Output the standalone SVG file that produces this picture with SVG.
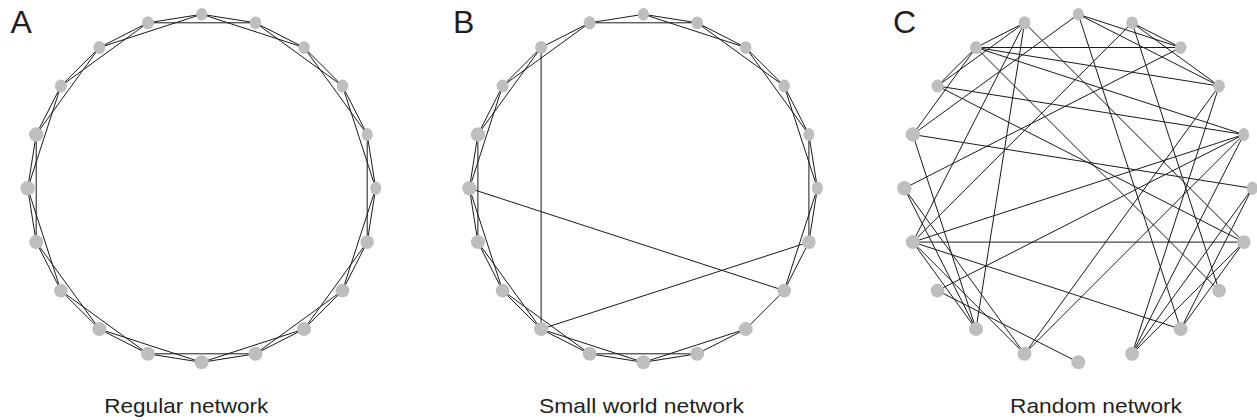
<svg xmlns="http://www.w3.org/2000/svg" width="1257" height="420" viewBox="0 0 1257 420">
<style>
.edge line{stroke:#1a1a1a;stroke-width:1;fill:none}
.node{fill:#bcbec0}
.lbl{font-family:"Liberation Sans",Arial,sans-serif;font-size:32px;fill:#231f20}
.cap{font-family:"Liberation Sans",Arial,sans-serif;font-size:21px;fill:#231f20;text-anchor:middle}
</style>
<rect width="1257" height="420" fill="#ffffff"/>
<g id="connectors-A" class="edge">
<line x1="201.7" y1="14.3" x2="255.5" y2="22.8"/><line x1="201.7" y1="14.3" x2="304.0" y2="47.5"/>
<line x1="255.5" y1="22.8" x2="304.0" y2="47.5"/><line x1="255.5" y1="22.8" x2="342.5" y2="86.0"/>
<line x1="304.0" y1="47.5" x2="342.5" y2="86.0"/><line x1="304.0" y1="47.5" x2="367.2" y2="134.5"/>
<line x1="342.5" y1="86.0" x2="367.2" y2="134.5"/><line x1="342.5" y1="86.0" x2="375.7" y2="188.3"/>
<line x1="367.2" y1="134.5" x2="375.7" y2="188.3"/><line x1="367.2" y1="134.5" x2="367.2" y2="242.1"/>
<line x1="375.7" y1="188.3" x2="367.2" y2="242.1"/><line x1="375.7" y1="188.3" x2="342.5" y2="290.6"/>
<line x1="367.2" y1="242.1" x2="342.5" y2="290.6"/><line x1="367.2" y1="242.1" x2="304.0" y2="329.1"/>
<line x1="342.5" y1="290.6" x2="304.0" y2="329.1"/><line x1="342.5" y1="290.6" x2="255.5" y2="353.8"/>
<line x1="304.0" y1="329.1" x2="255.5" y2="353.8"/><line x1="304.0" y1="329.1" x2="201.7" y2="362.3"/>
<line x1="255.5" y1="353.8" x2="201.7" y2="362.3"/><line x1="255.5" y1="353.8" x2="147.9" y2="353.8"/>
<line x1="201.7" y1="362.3" x2="147.9" y2="353.8"/><line x1="201.7" y1="362.3" x2="99.4" y2="329.1"/>
<line x1="147.9" y1="353.8" x2="99.4" y2="329.1"/><line x1="147.9" y1="353.8" x2="60.9" y2="290.6"/>
<line x1="99.4" y1="329.1" x2="60.9" y2="290.6"/><line x1="99.4" y1="329.1" x2="36.2" y2="242.1"/>
<line x1="60.9" y1="290.6" x2="36.2" y2="242.1"/><line x1="60.9" y1="290.6" x2="27.7" y2="188.3"/>
<line x1="36.2" y1="242.1" x2="27.7" y2="188.3"/><line x1="36.2" y1="242.1" x2="36.2" y2="134.5"/>
<line x1="27.7" y1="188.3" x2="36.2" y2="134.5"/><line x1="27.7" y1="188.3" x2="60.9" y2="86.0"/>
<line x1="36.2" y1="134.5" x2="60.9" y2="86.0"/><line x1="36.2" y1="134.5" x2="99.4" y2="47.5"/>
<line x1="60.9" y1="86.0" x2="99.4" y2="47.5"/><line x1="60.9" y1="86.0" x2="147.9" y2="22.8"/>
<line x1="99.4" y1="47.5" x2="147.9" y2="22.8"/><line x1="99.4" y1="47.5" x2="201.7" y2="14.3"/>
<line x1="147.9" y1="22.8" x2="201.7" y2="14.3"/><line x1="147.9" y1="22.8" x2="255.5" y2="22.8"/>
</g>
<g id="connectors-B" class="edge">
<line x1="643.4" y1="14.3" x2="697.2" y2="22.8"/><line x1="643.4" y1="14.3" x2="745.7" y2="47.5"/>
<line x1="697.2" y1="22.8" x2="745.7" y2="47.5"/><line x1="697.2" y1="22.8" x2="784.2" y2="86.0"/>
<line x1="745.7" y1="47.5" x2="784.2" y2="86.0"/><line x1="745.7" y1="47.5" x2="808.9" y2="134.5"/>
<line x1="784.2" y1="86.0" x2="808.9" y2="134.5"/><line x1="784.2" y1="86.0" x2="817.4" y2="188.3"/>
<line x1="808.9" y1="134.5" x2="817.4" y2="188.3"/><line x1="808.9" y1="134.5" x2="808.9" y2="242.1"/>
<line x1="817.4" y1="188.3" x2="808.9" y2="242.1"/><line x1="817.4" y1="188.3" x2="784.2" y2="290.6"/>
<line x1="808.9" y1="242.1" x2="784.2" y2="290.6"/>
<line x1="784.2" y1="290.6" x2="745.7" y2="329.1"/>
<line x1="745.7" y1="329.1" x2="697.2" y2="353.8"/><line x1="745.7" y1="329.1" x2="643.4" y2="362.3"/>
<line x1="697.2" y1="353.8" x2="643.4" y2="362.3"/><line x1="697.2" y1="353.8" x2="589.6" y2="353.8"/>
<line x1="643.4" y1="362.3" x2="589.6" y2="353.8"/><line x1="643.4" y1="362.3" x2="541.1" y2="329.1"/>
<line x1="589.6" y1="353.8" x2="541.1" y2="329.1"/><line x1="589.6" y1="353.8" x2="502.6" y2="290.6"/>
<line x1="541.1" y1="329.1" x2="502.6" y2="290.6"/><line x1="541.1" y1="329.1" x2="477.9" y2="242.1"/>
<line x1="502.6" y1="290.6" x2="477.9" y2="242.1"/><line x1="502.6" y1="290.6" x2="469.4" y2="188.3"/>
<line x1="477.9" y1="242.1" x2="469.4" y2="188.3"/><line x1="477.9" y1="242.1" x2="477.9" y2="134.5"/>
<line x1="469.4" y1="188.3" x2="477.9" y2="134.5"/><line x1="469.4" y1="188.3" x2="502.6" y2="86.0"/>
<line x1="477.9" y1="134.5" x2="502.6" y2="86.0"/><line x1="477.9" y1="134.5" x2="541.1" y2="47.5"/>
<line x1="502.6" y1="86.0" x2="541.1" y2="47.5"/><line x1="502.6" y1="86.0" x2="589.6" y2="22.8"/>
<line x1="541.1" y1="47.5" x2="589.6" y2="22.8"/>
<line x1="589.6" y1="22.8" x2="643.4" y2="14.3"/><line x1="589.6" y1="22.8" x2="697.2" y2="22.8"/>
<line x1="541.1" y1="47.5" x2="541.1" y2="329.1"/>
<line x1="469.4" y1="188.3" x2="784.2" y2="290.6"/>
<line x1="541.1" y1="329.1" x2="808.9" y2="242.1"/>
</g>
<g id="connectors-C" class="edge">
<line x1="976.0" y1="47.5" x2="1180.6" y2="47.5"/>
<line x1="976.0" y1="47.5" x2="1219.1" y2="86.0"/>
<line x1="976.0" y1="47.5" x2="1243.8" y2="134.5"/>
<line x1="937.5" y1="86.0" x2="1243.8" y2="134.5"/>
<line x1="912.8" y1="134.5" x2="1252.3" y2="188.3"/>
<line x1="937.5" y1="86.0" x2="1243.8" y2="242.1"/>
<line x1="1078.3" y1="14.3" x2="912.8" y2="134.5"/>
<line x1="1078.3" y1="14.3" x2="1180.6" y2="329.1"/>
<line x1="1132.1" y1="22.8" x2="912.8" y2="242.1"/>
<line x1="1132.1" y1="22.8" x2="1219.1" y2="290.6"/>
<line x1="1180.6" y1="47.5" x2="904.3" y2="188.3"/>
<line x1="1219.1" y1="86.0" x2="1132.1" y2="353.8"/>
<line x1="1219.1" y1="86.0" x2="1024.5" y2="353.8"/>
<line x1="1243.8" y1="134.5" x2="912.8" y2="242.1"/>
<line x1="1243.8" y1="134.5" x2="937.5" y2="290.6"/>
<line x1="1243.8" y1="134.5" x2="1024.5" y2="353.8"/>
<line x1="912.8" y1="242.1" x2="1243.8" y2="242.1"/>
<line x1="912.8" y1="242.1" x2="1180.6" y2="329.1"/>
<line x1="1024.5" y1="22.8" x2="976.0" y2="329.1"/>
<line x1="1024.5" y1="22.8" x2="976.0" y2="47.5"/>
<line x1="976.0" y1="47.5" x2="937.5" y2="86.0"/>
<line x1="1078.3" y1="14.3" x2="1180.6" y2="47.5"/>
<line x1="1078.3" y1="14.3" x2="1219.1" y2="86.0"/>
<line x1="1132.1" y1="22.8" x2="1180.6" y2="47.5"/>
<line x1="1024.5" y1="22.8" x2="912.8" y2="242.1"/>
<line x1="937.5" y1="290.6" x2="1078.3" y2="362.3"/>
<line x1="912.8" y1="134.5" x2="976.0" y2="329.1"/>
<line x1="904.3" y1="188.3" x2="976.0" y2="329.1"/>
<line x1="904.3" y1="188.3" x2="1024.5" y2="353.8"/>
<line x1="1252.3" y1="188.3" x2="1132.1" y2="353.8"/>
<line x1="1243.8" y1="242.1" x2="1132.1" y2="353.8"/>
<line x1="937.5" y1="86.0" x2="1024.5" y2="22.8"/>
<line x1="976.0" y1="47.5" x2="1219.1" y2="290.6"/>
<line x1="1132.1" y1="22.8" x2="1219.1" y2="86.0"/>
<line x1="1252.3" y1="188.3" x2="1180.6" y2="329.1"/>
<line x1="912.8" y1="134.5" x2="976.0" y2="47.5"/>
<line x1="1024.5" y1="22.8" x2="1243.8" y2="242.1"/>
<line x1="1132.1" y1="353.8" x2="1243.8" y2="134.5"/>
<line x1="1243.8" y1="242.1" x2="1180.6" y2="329.1"/>
<line x1="912.8" y1="242.1" x2="976.0" y2="329.1"/>
<line x1="912.8" y1="242.1" x2="1024.5" y2="353.8"/>
</g>
<g id="nodes-A">
<g id="A-n0"><ellipse class="node" cx="201.7" cy="14.3" rx="5.5" ry="6.3"/></g>
<g id="A-n1"><ellipse class="node" cx="255.5" cy="22.8" rx="5.8" ry="6.3"/></g>
<g id="A-n2"><ellipse class="node" cx="304.0" cy="47.5" rx="5.8" ry="6.3"/></g>
<g id="A-n3"><ellipse class="node" cx="342.5" cy="86.0" rx="5.8" ry="6.5"/></g>
<g id="A-n4"><ellipse class="node" cx="367.2" cy="134.5" rx="5.5" ry="6.5"/></g>
<g id="A-n5"><ellipse class="node" cx="375.7" cy="188.3" rx="5.5" ry="6.7"/></g>
<g id="A-n6"><ellipse class="node" cx="367.2" cy="242.1" rx="6.8" ry="6.8"/></g>
<g id="A-n7"><ellipse class="node" cx="342.5" cy="290.6" rx="6.8" ry="6.8"/></g>
<g id="A-n8"><ellipse class="node" cx="304.0" cy="329.1" rx="7" ry="7"/></g>
<g id="A-n9"><ellipse class="node" cx="255.5" cy="353.8" rx="7" ry="7"/></g>
<g id="A-n10"><ellipse class="node" cx="201.7" cy="362.3" rx="7" ry="7"/></g>
<g id="A-n11"><ellipse class="node" cx="147.9" cy="353.8" rx="7" ry="7"/></g>
<g id="A-n12"><ellipse class="node" cx="99.4" cy="329.1" rx="7" ry="7"/></g>
<g id="A-n13"><ellipse class="node" cx="60.9" cy="290.6" rx="6.8" ry="6.8"/></g>
<g id="A-n14"><ellipse class="node" cx="36.2" cy="242.1" rx="7" ry="7"/></g>
<g id="A-n15"><ellipse class="node" cx="27.7" cy="188.3" rx="7.2" ry="7.2"/></g>
<g id="A-n16"><ellipse class="node" cx="36.2" cy="134.5" rx="7.2" ry="7.2"/></g>
<g id="A-n17"><ellipse class="node" cx="60.9" cy="86.0" rx="6" ry="6.5"/></g>
<g id="A-n18"><ellipse class="node" cx="99.4" cy="47.5" rx="6" ry="6.5"/></g>
<g id="A-n19"><ellipse class="node" cx="147.9" cy="22.8" rx="6" ry="6.5"/></g>
</g>
<g id="nodes-B">
<g id="B-n0"><ellipse class="node" cx="643.4" cy="14.3" rx="5.5" ry="6.3"/></g>
<g id="B-n1"><ellipse class="node" cx="697.2" cy="22.8" rx="5.8" ry="6.3"/></g>
<g id="B-n2"><ellipse class="node" cx="745.7" cy="47.5" rx="5.8" ry="6.3"/></g>
<g id="B-n3"><ellipse class="node" cx="784.2" cy="86.0" rx="5.8" ry="6.5"/></g>
<g id="B-n4"><ellipse class="node" cx="808.9" cy="134.5" rx="5.5" ry="6.5"/></g>
<g id="B-n5"><ellipse class="node" cx="817.4" cy="188.3" rx="5.5" ry="6.7"/></g>
<g id="B-n6"><ellipse class="node" cx="808.9" cy="242.1" rx="6.8" ry="6.8"/></g>
<g id="B-n7"><ellipse class="node" cx="784.2" cy="290.6" rx="6.8" ry="6.8"/></g>
<g id="B-n8"><ellipse class="node" cx="745.7" cy="329.1" rx="7" ry="7"/></g>
<g id="B-n9"><ellipse class="node" cx="697.2" cy="353.8" rx="7" ry="7"/></g>
<g id="B-n10"><ellipse class="node" cx="643.4" cy="362.3" rx="7" ry="7"/></g>
<g id="B-n11"><ellipse class="node" cx="589.6" cy="353.8" rx="7" ry="7"/></g>
<g id="B-n12"><ellipse class="node" cx="541.1" cy="329.1" rx="7" ry="7"/></g>
<g id="B-n13"><ellipse class="node" cx="502.6" cy="290.6" rx="6.8" ry="6.8"/></g>
<g id="B-n14"><ellipse class="node" cx="477.9" cy="242.1" rx="7" ry="7"/></g>
<g id="B-n15"><ellipse class="node" cx="469.4" cy="188.3" rx="7.2" ry="7.2"/></g>
<g id="B-n16"><ellipse class="node" cx="477.9" cy="134.5" rx="7.2" ry="7.2"/></g>
<g id="B-n17"><ellipse class="node" cx="502.6" cy="86.0" rx="6" ry="6.5"/></g>
<g id="B-n18"><ellipse class="node" cx="541.1" cy="47.5" rx="6" ry="6.5"/></g>
<g id="B-n19"><ellipse class="node" cx="589.6" cy="22.8" rx="6" ry="6.5"/></g>
</g>
<g id="nodes-C">
<g id="C-n0"><ellipse class="node" cx="1078.3" cy="14.3" rx="5.5" ry="6.3"/></g>
<g id="C-n1"><ellipse class="node" cx="1132.1" cy="22.8" rx="5.8" ry="6.3"/></g>
<g id="C-n2"><ellipse class="node" cx="1180.6" cy="47.5" rx="5.8" ry="6.3"/></g>
<g id="C-n3"><ellipse class="node" cx="1219.1" cy="86.0" rx="5.8" ry="6.5"/></g>
<g id="C-n4"><ellipse class="node" cx="1243.8" cy="134.5" rx="5.5" ry="6.5"/></g>
<g id="C-n5"><ellipse class="node" cx="1252.3" cy="188.3" rx="5.5" ry="6.7"/></g>
<g id="C-n6"><ellipse class="node" cx="1243.8" cy="242.1" rx="6.8" ry="6.8"/></g>
<g id="C-n7"><ellipse class="node" cx="1219.1" cy="290.6" rx="6.8" ry="6.8"/></g>
<g id="C-n8"><ellipse class="node" cx="1180.6" cy="329.1" rx="7" ry="7"/></g>
<g id="C-n9"><ellipse class="node" cx="1132.1" cy="353.8" rx="7" ry="7"/></g>
<g id="C-n10"><ellipse class="node" cx="1078.3" cy="362.3" rx="7" ry="7"/></g>
<g id="C-n11"><ellipse class="node" cx="1024.5" cy="353.8" rx="7" ry="7"/></g>
<g id="C-n12"><ellipse class="node" cx="976.0" cy="329.1" rx="7" ry="7"/></g>
<g id="C-n13"><ellipse class="node" cx="937.5" cy="290.6" rx="6.8" ry="6.8"/></g>
<g id="C-n14"><ellipse class="node" cx="912.8" cy="242.1" rx="7" ry="7"/></g>
<g id="C-n15"><ellipse class="node" cx="904.3" cy="188.3" rx="7.2" ry="7.2"/></g>
<g id="C-n16"><ellipse class="node" cx="912.8" cy="134.5" rx="7.2" ry="7.2"/></g>
<g id="C-n17"><ellipse class="node" cx="937.5" cy="86.0" rx="6" ry="6.5"/></g>
<g id="C-n18"><ellipse class="node" cx="976.0" cy="47.5" rx="6" ry="6.5"/></g>
<g id="C-n19"><ellipse class="node" cx="1024.5" cy="22.8" rx="6" ry="6.5"/></g>
</g>
<g id="labels">
<text class="lbl" x="10.5" y="33.3">A</text>
<text class="lbl" x="453" y="33.3">B</text>
<text class="lbl" x="893" y="33.3">C</text>
<text class="cap" x="186.3" y="413.3" textLength="164" lengthAdjust="spacingAndGlyphs">Regular network</text>
<text class="cap" x="641.5" y="413.3" textLength="205" lengthAdjust="spacingAndGlyphs">Small world network</text>
<text class="cap" x="1096" y="413.3" textLength="172" lengthAdjust="spacingAndGlyphs">Random network</text>
</g>
</svg>
